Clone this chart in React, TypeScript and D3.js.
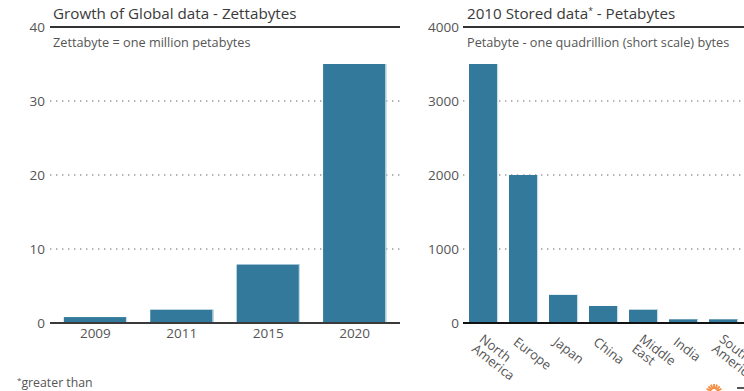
import React from "react";
import * as d3 from "d3";

const years = ["2009", "2011", "2015", "2020"];
const zettabytes = [0.8, 1.8, 7.9, 35];
const leftTicks = [0, 10, 20, 30, 40];

const regions = ["North America", "Europe", "Japan", "China", "Middle East", "India", "South America"];
const regionLabels = [["North", "America"], ["Europe"], ["Japan"], ["China"], ["Middle", "East"], ["India"], ["South", "America"]];
const petabytes = [3500, 2000, 380, 230, 180, 50, 50];
const rightTicks = [0, 1000, 2000, 3000, 4000];

const BAR = "#32799c";
const EDGE = "#c9dde7";
const FONT = "'Open Sans', 'Noto Sans', sans-serif";

export default function App() {
  const W = 744, H = 391;
  const y0 = 323, yTop = 27;
  const yL = d3.scaleLinear().domain([0, 40]).range([y0, yTop]);
  const xL = d3.scaleBand<string>().domain(years).range([50, 400]).paddingInner(0.27).paddingOuter(0.16);
  const yR = d3.scaleLinear().domain([0, 4000]).range([y0, yTop]);
  const xR = d3.scaleBand<string>().domain(regions).range([463, 744]).paddingInner(0.275).paddingOuter(0.15);

  const dotted = { stroke: "#9a9a9a", strokeWidth: 1.4, strokeDasharray: "1.4,4.6" };

  return (
    <svg width={W} height={H} style={{ position: "absolute", left: 0, top: 0 }} fontFamily={FONT}>
      <rect width={W} height={H} fill="#fff" />
      {/* Left panel */}
      <g>
        {leftTicks.map((t) => (
          <g key={t}>
            <text x={45} y={yL(t)} dy="0.35em" textAnchor="end" fontSize={13.5} fill="#555">{t}</text>
            {t > 0 && t < 40 && <line x1={50} x2={400} y1={yL(t)} y2={yL(t)} {...dotted} />}
          </g>
        ))}
        <line x1={50} x2={400} y1={yL(40)} y2={yL(40)} stroke="#333" strokeWidth={2} />
        <text x={53} y={19} fontSize={15.2} fill="#3a3a3a">Growth of Global data - Zettabytes</text>
        <text x={53} y={47} fontSize={12.7} fill="#555">Zettabyte = one million petabytes</text>
        {years.map((yr, i) => (
          <g key={yr}>
            <rect x={xL(yr)!} y={yL(zettabytes[i])} width={xL.bandwidth()} height={y0 - yL(zettabytes[i])} fill={BAR} />
            <rect x={xL(yr)! + xL.bandwidth() - 1} y={yL(zettabytes[i])} width={1.2} height={y0 - yL(zettabytes[i])} fill={EDGE} />
            <text x={xL(yr)! + xL.bandwidth() / 2} y={338} textAnchor="middle" fontSize={13.5} fill="#555">{yr}</text>
          </g>
        ))}
        <line x1={50} x2={400} y1={y0} y2={y0} stroke="#3a3a3a" strokeWidth={2} />
      </g>
      {/* Right panel */}
      <g>
        {rightTicks.map((t) => (
          <g key={t}>
            <text x={459} y={yR(t)} dy="0.35em" textAnchor="end" fontSize={13.5} fill="#555">{t}</text>
            {t > 0 && t < 4000 && <line x1={463} x2={744} y1={yR(t)} y2={yR(t)} {...dotted} />}
          </g>
        ))}
        <line x1={463} x2={744} y1={yR(4000)} y2={yR(4000)} stroke="#333" strokeWidth={2} />
        <text x={467} y={19} fontSize={15.2} fill="#3a3a3a">2010 Stored data<tspan dy={-5} fontSize={8.5}>*</tspan><tspan dy={5}> - Petabytes</tspan></text>
        <text x={467} y={47} fontSize={12.7} fill="#555">Petabyte - one quadrillion (short scale) bytes</text>
        {regions.map((r, i) => {
          const cx = xR(r)! + xR.bandwidth() / 2;
          const lines = regionLabels[i];
          return (
            <g key={r}>
              <rect x={xR(r)!} y={yR(petabytes[i])} width={xR.bandwidth()} height={y0 - yR(petabytes[i])} fill={BAR} />
              <rect x={xR(r)! + xR.bandwidth() - 1} y={yR(petabytes[i])} width={1.2} height={y0 - yR(petabytes[i])} fill={EDGE} />
              <text transform={`translate(${cx - 5 + (lines.length > 1 ? 6 : 0)},${336 + (lines.length > 1 ? -3 : 0)}) rotate(38)`} fontSize={13} fill="#555">
                {lines.map((l, j) => (
                  <tspan key={j} x={0} dy={j === 0 ? "0.75em" : "0.95em"}>{l}</tspan>
                ))}
              </text>
            </g>
          );
        })}
        <line x1={463} x2={744} y1={y0} y2={y0} stroke="#111" strokeWidth={2} />
      </g>
      <text x={17} y={387} fontSize={12.3} fill="#555"><tspan fontSize={8} dy={-4}>*</tspan><tspan dy={4}>greater than</tspan></text>
      {/* logo hint */}
      <g transform="translate(714,392)">
        {d3.range(9).map((k) => {
          const a = Math.PI + (k / 8) * Math.PI;
          return <line key={k} x1={Math.cos(a) * 3} y1={Math.sin(a) * 3} x2={Math.cos(a) * 8} y2={Math.sin(a) * 8} stroke="#f58a3c" strokeWidth={1.8} />;
        })}
      </g>
      <rect x={737} y={387} width={7} height={2} fill="#555" />
    </svg>
  );
}
